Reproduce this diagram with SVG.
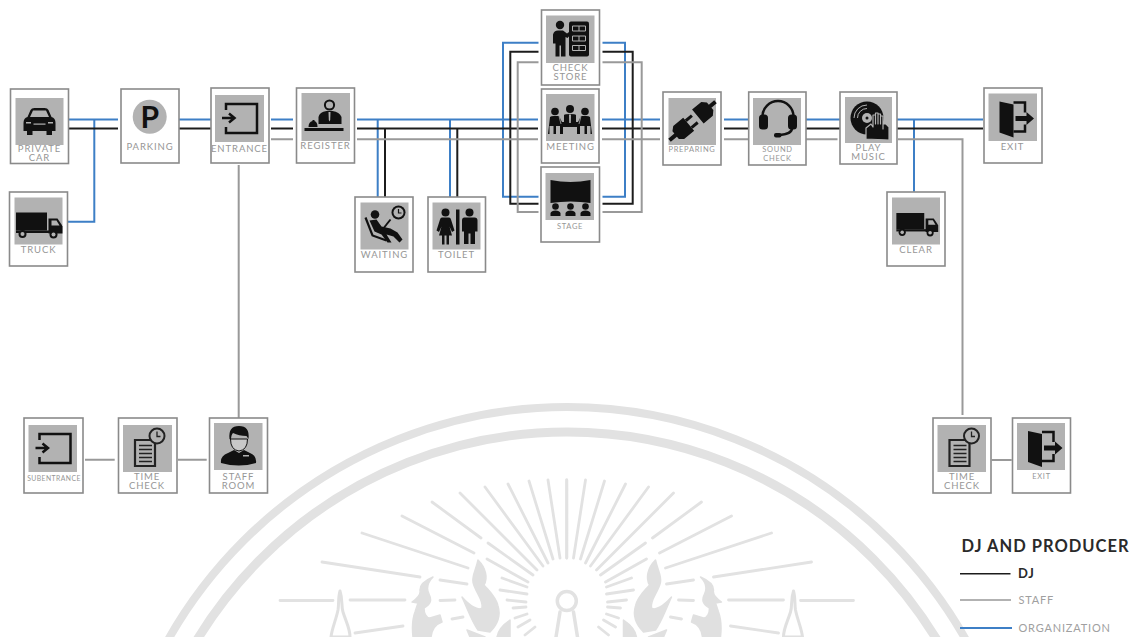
<svg xmlns="http://www.w3.org/2000/svg" width="1132" height="637" viewBox="0 0 1132 637">
<style>
.frame{fill:#fff;stroke:#8a8a8a;stroke-width:1.6}
.box{fill:#b2b2b2}
.lb{font-family:"Lato","Liberation Sans",sans-serif;font-size:9.5px;letter-spacing:.9px;fill:#969696;text-anchor:middle}
.sm{font-size:7.5px;letter-spacing:.7px}
.xs{font-size:6.8px;letter-spacing:.45px}
.k{fill:#111}
.g{fill:#b2b2b2}
.ol{fill:none;stroke:#111;stroke-width:2.5}
.gl{fill:none;stroke:#b2b2b2;stroke-width:1}
#links path{fill:none;stroke-width:2;stroke-linejoin:miter}
.blue{stroke:#3d7fc6}
.blk{stroke:#1c1c1c}
.gry{stroke:#999}
.wm{fill:none;stroke:#e2e2e2;stroke-linecap:round}
.wf{fill:#e0e0e0;stroke:#e0e0e0;stroke-width:1.5;stroke-linejoin:round}
.lg{font-family:"Lato","Liberation Sans",sans-serif;fill:#a0a0a0;font-size:11px;letter-spacing:.8px}
</style>
<defs>
<g id="wm-half">
<path class="wm" stroke-width="2.800" d="M566.700 480V558M548 480L560 558M529 481L553 559M508 484L548 563M485 487L543 566M460 493L537 570M432 502L481 538M488 543L533 575M402 516L474 553M487 559L528 582M362 533L468 568M502 578L527 587M500 590L527 594M507 600L526 602M513 608L526 607M515 618L527 614M518 627L530 620M525 635L535 627M322 562L420 577M280 600.500H333M350 600H405M355 633L403 626M440 580L467 584M440 600.500L455 600M452 619L463 617"/>
<path class="wf" d="M478 560C476 570 472 575 473 582C475 592 484 600 482 608C478 611 470 606 462 597C468 610 472 622 478 630L490 632C497 625 501 616 498 606C496 597 490 592 484 585C488 578 486 568 478 560Z"/>
<path class="wf" d="M433 577C428 582 426 588 429 594C432 600 431 604 424 608C424 613 426 618 430 618L440 615L442 622C436 624 432 628 431 637H413C412 628 412 620 415 612L418 603L412 602C418 598 421 594 420 590C420 585 426 580 433 577Z"/>
<path class="wf" d="M510 620C504 624 498 630 497 637H510Z"/>
<path class="wf" d="M467 630L485 637H470Z"/>
<path d="M340 591C343 600 341 606 343 612C346 622 350 628 350 637H331C332 628 336 620 338 610C339 604 338 598 340 591Z" fill="#fff" stroke="#e0e0e0" stroke-width="3" stroke-linejoin="round"/>
<path class="wm" stroke-width="3.500" d="M560 612L556 637"/>
</g>
<g id="i-car">
<path class="k" d="M8 25Q8 20 12 19L15 12Q16 10 19 10H29Q32 10 33 12L36 19Q40 20 40 25V33H36.500V37H31V33H17V37H11.500V33H8Z"/>
<path class="g" d="M14.500 19L17.500 12.500H30.500L33.500 19Z"/>
<rect class="g" x="10.500" y="24" width="5" height="1.500"/><rect class="g" x="32.500" y="24" width="5" height="1.500"/>
<rect class="g" x="18" y="25.500" width="12" height="1.200"/>
</g>
<g id="i-truck">
<rect class="k" x="1.500" y="15" width="31" height="18"/>
<path class="k" d="M34 21H43L47 27L48 29V36H34Z"/>
<path class="g" d="M37 23H42L45 28H37Z"/>
<rect class="k" x="1.500" y="33" width="34" height="2.500"/>
<circle class="k" cx="8" cy="36.500" r="4"/><circle class="g" cx="8" cy="36.500" r="2"/>
<circle class="k" cx="39" cy="37" r="4"/><circle class="g" cx="39" cy="37" r="2"/>
</g>
<g id="i-in">
<path class="ol" d="M11 15V9H42V38H11V32" stroke-width="2.600"/>
<path class="ol" d="M7 23H19M14 18.500L19.500 23L14 27.500" stroke-width="2"/>
</g>
<g id="i-reg">
<circle cx="28" cy="12" r="4.600" fill="none" stroke="#111" stroke-width="2"/>
<path class="k" d="M17 31V24Q18 19 25 18H31Q38 19 40 24V31Z"/>
<path class="g" d="M27 19H29L28.700 27L28 28.500L27.300 27Z"/>
<path class="k" d="M7 34Q7 29 11 28V27H13V28Q16 29 16 34Z"/>
<rect class="k" x="3" y="35" width="39" height="3"/>
</g>
<g id="i-store">
<circle class="k" cx="14" cy="9.500" r="4.200"/>
<path class="k" d="M7 19Q8 15 12 15H17L21 18L25 15L26.500 17L21.500 22.500L19.500 21.500V41H15V30H13.500V41H9.500V28H7Z"/>
<rect class="k" x="23" y="6" width="20" height="35" rx="2"/>
<path fill="none" stroke="#b2b2b2" stroke-width="1" d="M26.500 10.500H39.500V15.500H26.500ZM26.500 20.500H39.500V25.500H26.500ZM26.500 30H39.500V35H26.500Z"/>
<path stroke="#b2b2b2" stroke-width="1" d="M33 10.500V15.500M33 20.500V25.500M33 30V35"/>
</g>
<g id="i-meet">
<circle class="k" cx="9" cy="17.500" r="3.800"/><circle class="k" cx="24" cy="15" r="4"/><circle class="k" cx="39" cy="17.500" r="3.800"/>
<path class="k" d="M4 23Q5 22 8 22H13L16 28H18V21Q19 20 24 20Q29 20 30 21V28H32L35 22H40Q43 22 44 23L46 40H44.500V32H41V40H38.500V32H36L34 32V40H31V33H17V40H14V32H10V40H7.500V32H3.500V40H2Z"/>
<path class="g" d="M23 20.500H25L24.800 29H23.200Z"/>
<path fill="none" stroke="#b2b2b2" stroke-width=".8" d="M13 22L15 30M35 22L33 30"/>
</g>
<g id="i-stage">
<path class="k" d="M5 7Q25 11 45 7V30Q25 27 5 30Z"/>
<circle class="k" cx="10" cy="33.500" r="3.300"/><circle class="k" cx="25" cy="33.500" r="3.300"/><circle class="k" cx="40" cy="33.500" r="3.300"/>
<path class="k" d="M5 43V40Q6 37.500 10 37.500Q14 37.500 15 40V43ZM20 43V40Q21 37.500 25 37.500Q29 37.500 30 40V43ZM35 43V40Q36 37.500 40 37.500Q44 37.500 45 40V43Z"/>
</g>
<g id="i-plug">
<g transform="translate(24 23) rotate(-40)">
<path class="k" d="M-30 -2H-22V-5L-18 -8.500H-5V8.500H-18L-22 5V2H-30Z"/>
<rect class="k" x="-5" y="-6" width="8" height="3"/><rect class="k" x="-5" y="3" width="8" height="3"/>
<path class="k" d="M30 -2H23V-5L19 -9H7V9H19L23 5V2H30Z"/>
</g>
</g>
<g id="i-head">
<path class="ol" d="M9.500 21V18.500A15.500 15.500 0 0 1 40.500 18.500V21" stroke-width="2.800"/>
<rect class="k" x="6" y="16.500" width="9" height="15" rx="3.500"/>
<rect class="k" x="35" y="16.500" width="9" height="15" rx="3.500"/>
<path class="ol" d="M39 30Q39 36 27 37" stroke-width="1.800"/>
<rect class="k" x="21" y="35" width="7.500" height="4.500" rx="2"/>
</g>
<g id="i-disc">
<circle class="k" cx="22" cy="21" r="16.500"/>
<path class="gl" d="M9 21A13 13 0 0 1 22 8M12.500 21A9.500 9.500 0 0 1 22 11.500"/>
<circle class="g" cx="22" cy="21" r="5"/><circle class="k" cx="22" cy="21" r="1.500"/>
<path d="M21 42V31L26 27L28 30V18H30.500V27V16H33V27V17H35.500V27V19H38V32V27H41L44 30V43Z" fill="#111" stroke="#b2b2b2" stroke-width="1.200" stroke-linejoin="round"/>
</g>
<g id="i-exit">
<path class="k" d="M11 8L25 11V44L11 39Z"/>
<path class="ol" d="M25 9H36.500V19M36.500 31V38H25" stroke-width="2"/>
<path class="k" d="M27 22.500H38V18.500L45.500 25L38 31.500V27.500H27Z"/>
</g>
<g id="i-time">
<path d="M12 15H32V41H12Z" fill="none" stroke="#222" stroke-width="2.200"/>
<path stroke="#222" stroke-width="1.300" d="M16 20.500H29M16 24.500H29M16 28.500H29M16 32.500H29M16 36.500H29"/>
<circle cx="34" cy="11" r="7.500" fill="#b2b2b2" stroke="#222" stroke-width="2"/>
<path d="M34 6.500V11.500H37.500" fill="none" stroke="#222" stroke-width="1.300"/>
</g>
<g id="i-staff">
<path class="k" d="M7 40Q6 33 14 30L20 27L25 30L30 27L36 30Q43 33 42 40Q25 45 7 40Z"/>
<path d="M16.500 16Q16.500 27 25 28Q33.500 27 33.500 16Z" fill="#c8c8c8" stroke="#111" stroke-width="1"/>
<path class="k" d="M15.500 16Q14 3 25 3Q36 3 34.500 16L32.500 13Q25 13 19 10Q17 12 17 17Z"/>
<rect class="g" x="29" y="32" width="6" height="1.500"/>
</g>
<g id="i-wait">
<circle class="k" cx="14.500" cy="12" r="4.300"/>
<circle cx="38" cy="10" r="7" fill="#111"/>
<circle cx="38" cy="10" r="5" fill="#b2b2b2"/>
<path d="M38 6.500V10.500H41" fill="none" stroke="#111" stroke-width="1.200"/>
<path fill="none" stroke="#111" stroke-width="2.200" d="M5 15L12 33L26 38"/>
<path class="k" d="M9 18L16 17L21 24L30 26L37 30L42 37L39 40L33 34L26 32L31 40H27L21 32L14 29Z"/>
<path d="M22 27L30 17" stroke="#111" stroke-width="2"/>
</g>
<g id="i-wc">
<circle class="k" cx="13" cy="10" r="4"/><circle class="k" cx="37" cy="10" r="4"/>
<path class="k" d="M9.500 15H16.500Q18 15 18.500 17L22 28L19.500 29.500L17 24L19.500 33H16.500V42H14V33H12V42H9.500V33H6.500L9 24L6.500 29.500L4 28L7.500 17Q8 15 9.500 15Z"/>
<rect class="k" x="23.500" y="7" width="3.500" height="35"/>
<path class="k" d="M32 15H42Q45 15 45 18V29H42.500V41.500H38V31H36V41.500H31.500V29H29.500V18Q29.500 15 32 15Z"/>
</g>
</defs>

<rect width="1132" height="637" fill="#fff"/>

<g id="watermark">
<circle class="wm" stroke-width="8" cx="567" cy="865" r="458"/>
<circle class="wm" stroke-width="9" cx="567" cy="865" r="433"/>
<use href="#wm-half"/>
<use href="#wm-half" transform="translate(1133.500 0) scale(-1 1)"/>
<circle class="wm" stroke-width="3.500" cx="566.800" cy="601" r="9.500"/>
</g>

<g id="links">
<path class="blue" d="M68 119.500H118M94.300 119.500V221.700H68M179 119.500H211M271 119.500H293M357 119.500H538M602 119.500H660M724 119.500H748M806 119.500H840M897 119.500H983M914 119.500V191.700M377.700 119.500V197M450 119.500V197M538.500 42.700H503V196.700H538.500M602.500 42.700H625V196.700H602.500"/>
<path class="blk" d="M68 128.500H118M179 128.500H211M271 128.500H293M357 128.500H538M602 128.500H660M724 128.500H748M806 128.500H840M897 128.500H983M385 128.500V197M457.300 128.500V197M538.500 51.700H510.300V203.700H538.500M602.500 51.700H632.700V203.700H602.500"/>
<path class="gry" d="M271 139.300H293M357 139.300H538M602 139.300H660M724 139.300H748M806 139.300H837.500M898 139.300H962.500V415M238.700 165V418M538.500 62.300H517.700V212H538.500M602.500 62.300H641.700V212H602.500M85 459.700H114.700M178 459.700H206.700M991.700 460H1011.700"/>
</g>

<g id="private-car"><rect class="frame" x="10.500" y="89" width="58" height="74.500"/><rect class="box" x="15.500" y="98" width="48" height="47"/><use href="#i-car" x="15.500" y="98"/><text class="lb" x="39.500" y="152.300">PRIVATE</text><text class="lb" x="39.500" y="161.300">CAR</text></g>
<g id="truck"><rect class="frame" x="9.500" y="192" width="58" height="74"/><rect class="box" x="14.500" y="197.500" width="48" height="47"/><use href="#i-truck" x="14.500" y="197.500"/><text class="lb" x="38.500" y="253.300">TRUCK</text></g>
<g id="parking"><rect class="frame" x="121" y="89" width="58" height="74"/><circle class="box" cx="149.700" cy="116.700" r="17"/><text x="149.700" y="127.800" text-anchor="middle" font-family="Lato, Liberation Sans, sans-serif" font-weight="700" font-size="30" fill="#111">P</text><text class="lb" x="150" y="150">PARKING</text></g>
<g id="entrance"><rect class="frame" x="211" y="88" width="58" height="75"/><rect class="box" x="215" y="95" width="49" height="47"/><use href="#i-in" x="215" y="95"/><text class="lb" x="239.500" y="151.700">ENTRANCE</text></g>
<g id="register"><rect class="frame" x="296.500" y="88" width="58" height="75"/><rect class="box" x="301.500" y="93" width="48.500" height="48"/><use href="#i-reg" x="301.500" y="93"/><text class="lb" x="325.500" y="149.300">REGISTER</text></g>
<g id="waiting"><rect class="frame" x="355" y="197" width="58" height="75"/><rect class="box" x="360.500" y="202.500" width="48" height="47"/><use href="#i-wait" x="360.500" y="202.500"/><text class="lb" x="384.500" y="258">WAITING</text></g>
<g id="toilet"><rect class="frame" x="428" y="197" width="57.500" height="75"/><rect class="box" x="432.500" y="202.500" width="48" height="47"/><use href="#i-wc" x="432.500" y="202.500"/><text class="lb" x="456.500" y="258">TOILET</text></g>
<g id="check-store"><rect class="frame" x="541.500" y="10" width="58" height="75"/><rect class="box" x="546" y="15.500" width="48.500" height="47.500"/><use href="#i-store" x="546" y="15.500"/><text class="lb" x="570.500" y="71">CHECK</text><text class="lb" x="570.500" y="80">STORE</text></g>
<g id="meeting"><rect class="frame" x="541.500" y="89" width="57.500" height="74"/><rect class="box" x="546" y="94" width="48.500" height="47"/><use href="#i-meet" x="546" y="94"/><text class="lb" x="570.500" y="150">MEETING</text></g>
<g id="stage"><rect class="frame" x="541" y="167" width="58.500" height="75"/><rect class="box" x="545.500" y="173" width="48.500" height="47"/><use href="#i-stage" x="545.500" y="173"/><text class="lb sm" x="570" y="229">STAGE</text></g>
<g id="preparing"><rect class="frame" x="663" y="92" width="58" height="73"/><rect class="box" x="668.500" y="98" width="47.500" height="47"/><use href="#i-plug" x="668.500" y="98"/><text class="lb sm" x="692" y="152">PREPARING</text></g>
<g id="sound-check"><rect class="frame" x="748.700" y="92" width="57.300" height="73"/><rect class="box" x="753" y="98" width="48" height="47"/><use href="#i-head" x="753" y="98"/><text class="lb sm" x="777.500" y="152">SOUND</text><text class="lb sm" x="777.500" y="160.700">CHECK</text></g>
<g id="play-music"><rect class="frame" x="840" y="92" width="57" height="72"/><rect class="box" x="845" y="97" width="47" height="46"/><use href="#i-disc" x="845" y="97"/><text class="lb" x="868.500" y="151">PLAY</text><text class="lb" x="868.500" y="160">MUSIC</text></g>
<g id="exit"><rect class="frame" x="984" y="88" width="58" height="75"/><rect class="box" x="988.500" y="93.500" width="48.500" height="47.500"/><use href="#i-exit" x="988.500" y="93.500"/><text class="lb" x="1012.500" y="149.700">EXIT</text></g>
<g id="clear"><rect class="frame" x="887" y="192" width="58" height="74"/><rect class="box" x="892" y="197.500" width="48" height="47"/><use href="#i-truck" transform="translate(895 199.500) scale(.9)"/><text class="lb" x="916" y="253.300">CLEAR</text></g>
<g id="subentrance"><rect class="frame" x="24" y="418" width="59" height="75"/><rect class="box" x="28.500" y="425" width="48.500" height="47"/><use href="#i-in" x="28.500" y="425"/><text class="lb xs" x="54" y="480.700">SUBENTRANCE</text></g>
<g id="time-check-1"><rect class="frame" x="118.500" y="418" width="58.500" height="75"/><rect class="box" x="123" y="425" width="49" height="47"/><use href="#i-time" x="123" y="425"/><text class="lb" x="147" y="480">TIME</text><text class="lb" x="147" y="489">CHECK</text></g>
<g id="staff-room"><rect class="frame" x="209.500" y="418" width="58" height="75"/><rect class="box" x="214" y="423" width="48.500" height="47"/><use href="#i-staff" x="214" y="423"/><text class="lb" x="238.500" y="480">STAFF</text><text class="lb" x="238.500" y="489">ROOM</text></g>
<g id="time-check-2"><rect class="frame" x="933" y="418" width="58" height="75"/><rect class="box" x="937.500" y="425" width="48.500" height="47"/><use href="#i-time" x="937.500" y="425"/><text class="lb" x="962" y="480">TIME</text><text class="lb" x="962" y="489">CHECK</text></g>
<g id="exit-2"><rect class="frame" x="1012.500" y="418" width="58" height="75"/><rect class="box" x="1017" y="423" width="48" height="47"/><use href="#i-exit" x="1017" y="423"/><text class="lb sm" x="1041.500" y="479.300">EXIT</text></g>

<g id="legend">
<text x="961.500" y="552" font-family="Lato, Liberation Sans, sans-serif" font-size="16.500" letter-spacing="1" fill="#2a2a2a" font-weight="700">DJ AND PRODUCER</text>
<path d="M960 573.700H1010.500" stroke="#1c1c1c" stroke-width="1.500" fill="none"/>
<path d="M960 600H1011" stroke="#999" stroke-width="1.500" fill="none"/>
<path d="M960 628H1012" stroke="#3d7fc6" stroke-width="2" fill="none"/>
<text x="1018" y="578" class="lg" style="fill:#2a2a2a;font-weight:700;font-size:13px">DJ</text>
<text x="1018.500" y="604" class="lg">STAFF</text>
<text x="1018.500" y="632" class="lg">ORGANIZATION</text>
</g>
</svg>
